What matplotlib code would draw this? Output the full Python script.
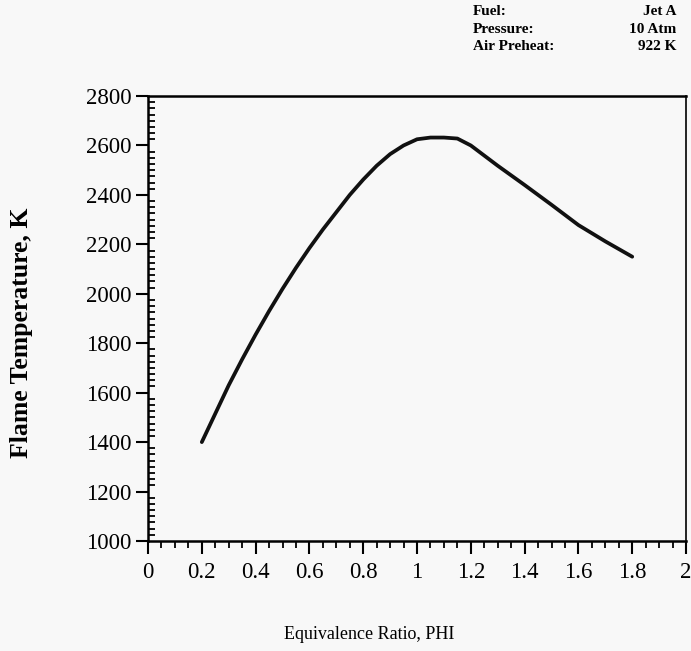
import numpy as np
import matplotlib.pyplot as plt
from matplotlib.ticker import MultipleLocator

# Data
phi = [0.2, 0.25, 0.3, 0.35, 0.4, 0.45, 0.5, 0.55, 0.6, 0.65, 0.7, 0.75,
       0.8, 0.85, 0.9, 0.95, 1.0, 1.05, 1.1, 1.15, 1.2, 1.3, 1.4, 1.5,
       1.6, 1.7, 1.8]
flame_temp = [1400, 1515, 1630, 1735, 1835, 1930, 2020, 2105, 2185, 2260,
              2330, 2400, 2462, 2518, 2565, 2600, 2625, 2632, 2632, 2628,
              2600, 2518, 2440, 2360, 2278, 2212, 2150]

info_keys = ["Fuel:", "Pressure:", "Air Preheat:"]
info_vals = ["Jet A", "10 Atm", "922 K"]

plt.rcParams['font.family'] = ['Liberation Serif', 'DejaVu Serif']

fig = plt.figure(figsize=(6.91, 6.51), dpi=100, facecolor='#f8f8f8')
ax = fig.add_axes([0.2142, 0.169, 0.7786, 0.6835])
ax.set_facecolor('#f8f8f8')

ax.plot(phi, flame_temp, color='#111111', linewidth=2.7,
        solid_capstyle='round', solid_joinstyle='round')

ax.set_xlim(0, 2)
ax.set_ylim(1000, 2800)
ax.xaxis.set_minor_locator(MultipleLocator(0.05))
ax.yaxis.set_major_locator(MultipleLocator(200))
ax.yaxis.set_minor_locator(MultipleLocator(25))
ax.set_xticks(np.arange(0, 2.01, 0.2))
ax.set_xticklabels(["0", "0.2", "0.4", "0.6", "0.8", "1", "1.2", "1.4",
                    "1.6", "1.8", "2"])

ax.tick_params(which='major', direction='out', length=9, width=1.5,
               labelsize=16.5, pad=3)
ax.tick_params(axis='x', which='major', pad=6)
ax.tick_params(which='minor', direction='out', length=5, width=1.3)
ax.tick_params(axis='y', which='minor', direction='in', length=5)

for side in ['left', 'bottom', 'top']:
    ax.spines[side].set_linewidth(1.8)
ax.spines['right'].set_linewidth(1.2)

fig.text(0.031, 0.488, "Flame Temperature, K", rotation=90, fontsize=18.5,
         fontweight='bold', ha='center', va='center')
fig.text(0.535, 0.025, "Equivalence Ratio, PHI", fontsize=13,
         ha='center', va='center')

for i, (k, v) in enumerate(zip(info_keys, info_vals)):
    y = 0.982 - i * 0.027
    fig.text(0.684, y, k, fontsize=11, fontweight='bold', ha='left', va='center')
    fig.text(0.979, y, v, fontsize=11, fontweight='bold', ha='right', va='center')

fig.savefig("out.png", dpi=100, facecolor=fig.get_facecolor())
